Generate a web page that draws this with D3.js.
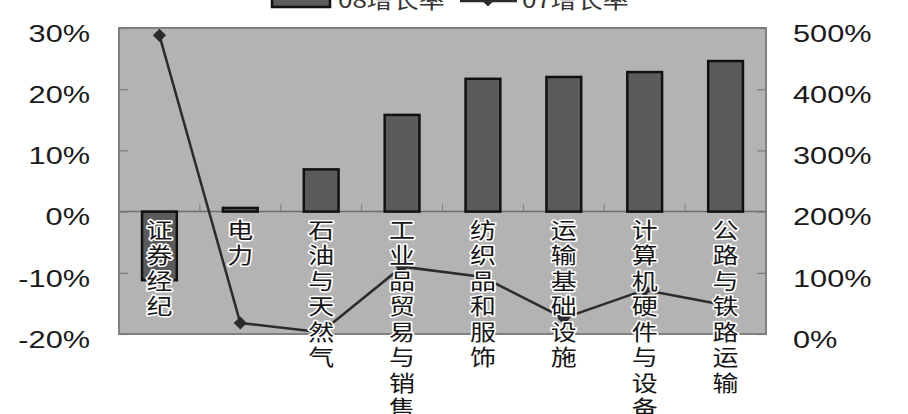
<!DOCTYPE html>
<html>
<head>
<meta charset="utf-8">
<script src="https://cdn.jsdelivr.net/npm/d3@7/dist/d3.min.js"></script>
<style>
  html, body { margin: 0; padding: 0; background: #fff; }
  svg { display: block; }
</style>
</head>
<body>
<svg id="chart" width="908" height="414"></svg>
<script>
// industries, 08 growth (bars, left axis) and 07 growth (line, right axis)
const categories = ['证券经纪', '电力', '石油与天然气', '工业品贸易与销售',
  '纺织品和服饰', '运输基础设施', '计算机硬件与设备', '公路与铁路运输'];
const growth08 = [-0.112, 0.006, 0.069, 0.158, 0.217, 0.22, 0.228, 0.246];
const growth07 = [4.88, 0.18, 0.03, 1.1, 0.93, 0.26, 0.72, 0.47];
const leftTicks = [-0.2, -0.1, 0, 0.1, 0.2, 0.3];
const rightTicks = [0, 1, 2, 3, 4, 5];
const seriesNames = ['08增长率', '07增长率'];

const svg = d3.select('#chart');
const plot = { left: 119, right: 766, top: 28, bottom: 334 };
const stretch = 1.28; // glyphs in the picture are wider than tall
const numFont = '"Liberation Sans", Arial, sans-serif';
const cjkFont = '"Noto Sans CJK SC", sans-serif';

const x = d3.scaleBand().domain(categories).range([plot.left, plot.right]).padding(0);
const y1 = d3.scaleLinear().domain([-0.2, 0.3]).range([plot.bottom, plot.top]);
const y2 = d3.scaleLinear().domain([0, 5]).range([plot.bottom, plot.top]);
const barW = x.bandwidth() * 0.43;

// plot area
svg.append('rect')
  .attr('x', plot.left).attr('y', plot.top)
  .attr('width', plot.right - plot.left).attr('height', plot.bottom - plot.top)
  .attr('fill', '#b3b3b3')
  .attr('stroke', '#808080')
  .attr('stroke-width', 2);

// zero line + category boundary ticks
svg.append('line')
  .attr('x1', plot.left).attr('x2', plot.right)
  .attr('y1', y1(0)).attr('y2', y1(0))
  .attr('stroke', '#6e6e6e').attr('stroke-width', 1.5);

svg.append('g').selectAll('line')
  .data(categories.slice(1))
  .join('line')
  .attr('x1', (d) => x(d)).attr('x2', (d) => x(d))
  .attr('y1', y1(0) - 7).attr('y2', y1(0))
  .attr('stroke', '#7a7a7a').attr('stroke-width', 1);

// axes
const leftAxis = svg.append('g')
  .attr('transform', `translate(${plot.left},0)`)
  .call(d3.axisLeft(y1).tickValues(leftTicks)
    .tickFormat((d) => `${Math.round(d * 100)}%`)
    .tickSize(-9).tickPadding(29));

const rightAxis = svg.append('g')
  .attr('transform', `translate(${plot.right},0)`)
  .call(d3.axisRight(y2).tickValues(rightTicks)
    .tickFormat((d) => `${Math.round(d * 100)}%`)
    .tickSize(-9).tickPadding(27));

[leftAxis, rightAxis].forEach((ax) => {
  ax.select('.domain').remove();
  ax.selectAll('.tick line').attr('stroke', '#7a7a7a').attr('stroke-width', 1.2);
  ax.selectAll('.tick text')
    .attr('font-family', numFont)
    .attr('font-size', 24)
    .attr('fill', '#1a1a1a')
    .attr('dy', '0.55em')
    .attr('x', function () { return +d3.select(this).attr('x') / stretch; })
    .attr('transform', `scale(${stretch},1)`);
});

// bars
svg.append('g').selectAll('rect')
  .data(categories)
  .join('rect')
  .attr('x', (d) => x(d) + (x.bandwidth() - barW) / 2)
  .attr('y', (d, i) => y1(Math.max(0, growth08[i])))
  .attr('width', barW)
  .attr('height', (d, i) => Math.abs(y1(growth08[i]) - y1(0)))
  .attr('fill', '#5b5b5b')
  .attr('stroke', '#111')
  .attr('stroke-width', 2.5);

// line
const cx = (d) => x(d) + x.bandwidth() / 2;
const line = d3.line()
  .x((d) => cx(d))
  .y((d, i) => y2(growth07[i]));

svg.append('path')
  .datum(categories)
  .attr('d', line)
  .attr('fill', 'none')
  .attr('stroke', '#2b2b2b')
  .attr('stroke-width', 2.5);

const diamond = d3.symbol().type(d3.symbolDiamond2).size(110);
svg.append('g').selectAll('path')
  .data(categories)
  .join('path')
  .attr('d', diamond)
  .attr('transform', (d, i) => `translate(${cx(d)},${y2(growth07[i])})`)
  .attr('fill', '#2b2b2b');

// vertical category labels, one character per line
const labels = svg.append('g').selectAll('text')
  .data(categories)
  .join('text')
  .attr('transform', (d) => `translate(${cx(d)},0) scale(1.18,1)`)
  .attr('text-anchor', 'middle')
  .attr('font-family', cjkFont)
  .attr('font-size', 22)
  .attr('fill', '#151515')
  .attr('stroke', '#fff')
  .attr('stroke-width', 3)
  .attr('paint-order', 'stroke')
  .attr('stroke-linejoin', 'round');

labels.selectAll('tspan')
  .data((d) => Array.from(d))
  .join('tspan')
  .attr('x', 0)
  .attr('y', (c, i) => y1(0) + 26 + i * 25.5)
  .text((c) => c);

// legend (cut off at the top edge)
const legend = svg.append('g');
legend.append('rect')
  .attr('x', 272).attr('y', -20).attr('width', 58).attr('height', 27)
  .attr('fill', '#5b5b5b').attr('stroke', '#111').attr('stroke-width', 2.5);
legend.append('line')
  .attr('x1', 460).attr('x2', 517).attr('y1', 1).attr('y2', 1)
  .attr('stroke', '#2b2b2b').attr('stroke-width', 2.5);
legend.append('path')
  .attr('d', diamond)
  .attr('transform', 'translate(488,0)')
  .attr('fill', '#2b2b2b');
legend.selectAll('text')
  .data(seriesNames)
  .join('text')
  .attr('transform', (d, i) => `translate(${i === 0 ? 338 : 522},8) scale(1.18,1)`)
  .attr('font-family', cjkFont)
  .attr('font-size', 22)
  .attr('fill', '#333')
  .text((d) => d);
</script>
</body>
</html>
